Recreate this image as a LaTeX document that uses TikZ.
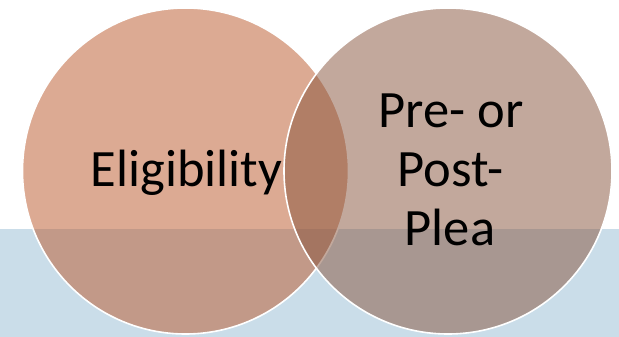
\documentclass[tikz,border=0pt]{standalone}
\usepackage{fontspec}
\setmainfont{Carlito}
\definecolor{bandblue}{RGB}{202,221,233}
\definecolor{leftfill}{RGB}{187,87,41}
\definecolor{rightfill}{RGB}{135,83,59}
\tikzset{
  venn/.style={draw=white, line width=1.6pt, fill opacity=0.5},
  lbl/.style={anchor=base, inner sep=0pt, font=\fontsize{52.5}{59}\selectfont, text=black}
}
\begin{document}
\begin{tikzpicture}[x=1pt,y=1pt]
\useasboundingbox (0,0) rectangle (619,337);
\fill[white] (0,0) rectangle (619,337);
\fill[bandblue] (0,0) rectangle (619,108);
\path[venn, fill=leftfill] (185.5,166) ellipse [x radius=163, y radius=163];
\path[venn, fill=rightfill] (448,166) ellipse [x radius=164, y radius=163];
\node[lbl] (elig) at (186.5,150) {Eligibility};
\node[lbl] (pre) at (451,209) {Pre- or};
\node[lbl] (post) at (450.5,150) {Post-};
\node[lbl] (plea) at (450,91) {Plea};
\end{tikzpicture}
\end{document}
